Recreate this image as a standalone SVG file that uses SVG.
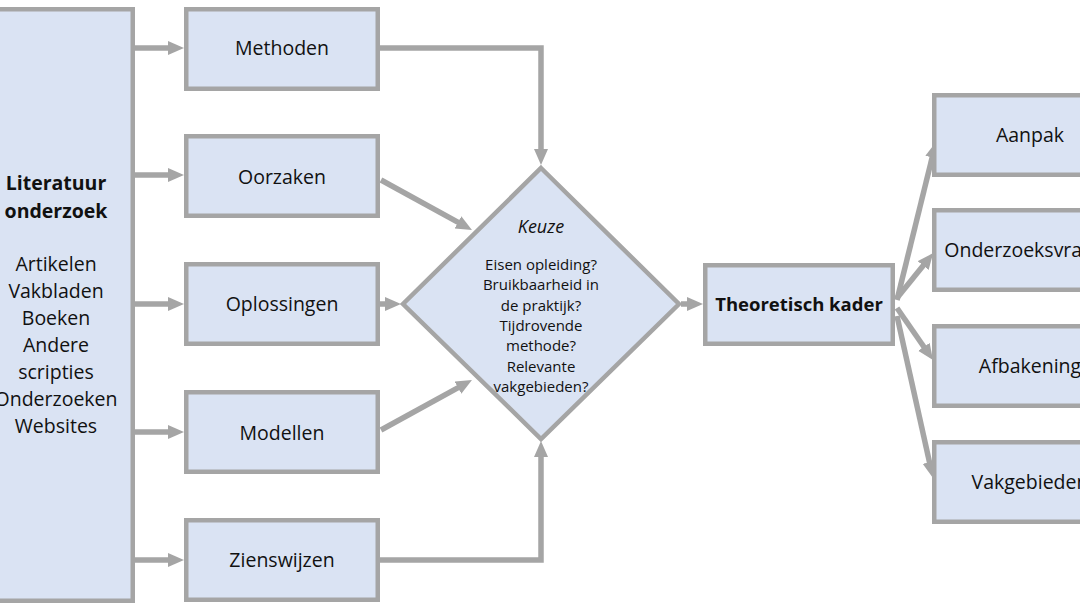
<svg xmlns="http://www.w3.org/2000/svg" width="1080" height="607" viewBox="0 0 1080 607">
<style>
.box{fill:#dae3f3;stroke:#a5a5a5;stroke-width:4.5}
.lbl{font-family:"Open Sans","Liberation Sans",sans-serif;font-size:19.5px;fill:#111;text-anchor:middle}
.b{font-weight:bold}
.sm{font-size:15px}
.conn{fill:none;stroke:#a5a5a5;stroke-width:5.5}
</style>
<defs>
<marker id="ah" markerUnits="userSpaceOnUse" markerWidth="17" markerHeight="15" refX="6" refY="7" orient="auto">
<path d="M0,0 L16,7 L0,14 z" fill="#a5a5a5"/>
</marker>
</defs>
<rect width="1080" height="607" fill="#fff"/>
<g id="connectors">
<line class="conn" x1="135" y1="48" x2="174" y2="48" marker-end="url(#ah)"/>
<line class="conn" x1="135" y1="175" x2="174" y2="175" marker-end="url(#ah)"/>
<line class="conn" x1="135" y1="304" x2="174" y2="304" marker-end="url(#ah)"/>
<line class="conn" x1="135" y1="432" x2="174" y2="432" marker-end="url(#ah)"/>
<line class="conn" x1="135" y1="560" x2="174" y2="560" marker-end="url(#ah)"/>
<path class="conn" d="M380,48 H541 V155" marker-end="url(#ah)"/>
<path class="conn" d="M380,560 H541 V451" marker-end="url(#ah)"/>
<line class="conn" x1="381" y1="180" x2="463.2" y2="225.2" marker-end="url(#ah)"/>
<line class="conn" x1="381" y1="430" x2="463.2" y2="384.8" marker-end="url(#ah)"/>
<line class="conn" x1="380" y1="304" x2="391" y2="304" marker-end="url(#ah)"/>
<line class="conn" x1="681" y1="304" x2="693" y2="304" marker-end="url(#ah)"/>
<line class="conn" x1="897" y1="300" x2="933.6" y2="151.7" marker-end="url(#ah)"/>
<line class="conn" x1="897" y1="298" x2="926.9" y2="260.9" marker-end="url(#ah)"/>
<line class="conn" x1="897" y1="308" x2="927.3" y2="351.8" marker-end="url(#ah)"/>
<line class="conn" x1="897" y1="316" x2="930.8" y2="468.2" marker-end="url(#ah)"/>
</g>
<g id="literatuur">
<rect class="box" x="-5" y="9.25" width="137.75" height="591.5"/>
<text class="lbl b" x="56" y="190">Literatuur</text>
<text class="lbl b" x="56" y="218">onderzoek</text>
<text class="lbl" x="56" y="271">Artikelen</text>
<text class="lbl" x="56" y="298">Vakbladen</text>
<text class="lbl" x="56" y="325">Boeken</text>
<text class="lbl" x="56" y="352">Andere</text>
<text class="lbl" x="56" y="379">scripties</text>
<text class="lbl" x="56" y="406">Onderzoeken</text>
<text class="lbl" x="56" y="433">Websites</text>
</g>
<g id="methoden"><rect class="box" x="186.25" y="9.25" width="191.5" height="79.5"/><text class="lbl" x="282" y="55">Methoden</text></g>
<g id="oorzaken"><rect class="box" x="186.25" y="136.25" width="191.5" height="79.5"/><text class="lbl" x="282" y="184">Oorzaken</text></g>
<g id="oplossingen"><rect class="box" x="186.25" y="264.25" width="191.5" height="79.5"/><text class="lbl" x="282" y="311">Oplossingen</text></g>
<g id="modellen"><rect class="box" x="186.25" y="392.25" width="191.5" height="79.5"/><text class="lbl" x="282" y="440">Modellen</text></g>
<g id="zienswijzen"><rect class="box" x="186.25" y="520.25" width="191.5" height="79.5"/><text class="lbl" x="282" y="567">Zienswijzen</text></g>
<g id="keuze">
<polygon class="box" points="541,168 679,304 541,439 403,304"/>
<text class="lbl" x="541" y="233" style="font-style:italic;font-size:18px">Keuze</text>
<text class="lbl sm" x="541" y="270">Eisen opleiding?</text>
<text class="lbl sm" x="541" y="290.3">Bruikbaarheid in</text>
<text class="lbl sm" x="541" y="310.6">de praktijk?</text>
<text class="lbl sm" x="541" y="330.9">Tijdrovende</text>
<text class="lbl sm" x="541" y="351.2">methode?</text>
<text class="lbl sm" x="541" y="371.5">Relevante</text>
<text class="lbl sm" x="541" y="391.8">vakgebieden?</text>
</g>
<g id="theoretisch"><rect class="box" x="705.25" y="265.25" width="187.5" height="78.5"/><text class="lbl b" x="799" y="311" style="font-size:18.5px">Theoretisch kader</text></g>
<g id="aanpak"><rect class="box" x="934.25" y="95.25" width="200" height="79.5"/><text class="lbl" x="1030" y="142">Aanpak</text></g>
<g id="onderzoeksvragen"><rect class="box" x="934.25" y="210.25" width="200" height="79.5"/><text class="lbl" x="1030" y="257">Onderzoeksvragen</text></g>
<g id="afbakening"><rect class="box" x="934.25" y="326.25" width="200" height="79.5"/><text class="lbl" x="1030" y="373">Afbakening</text></g>
<g id="vakgebieden"><rect class="box" x="934.25" y="442.25" width="200" height="79.5"/><text class="lbl" x="1030" y="489">Vakgebieden</text></g>
</svg>
